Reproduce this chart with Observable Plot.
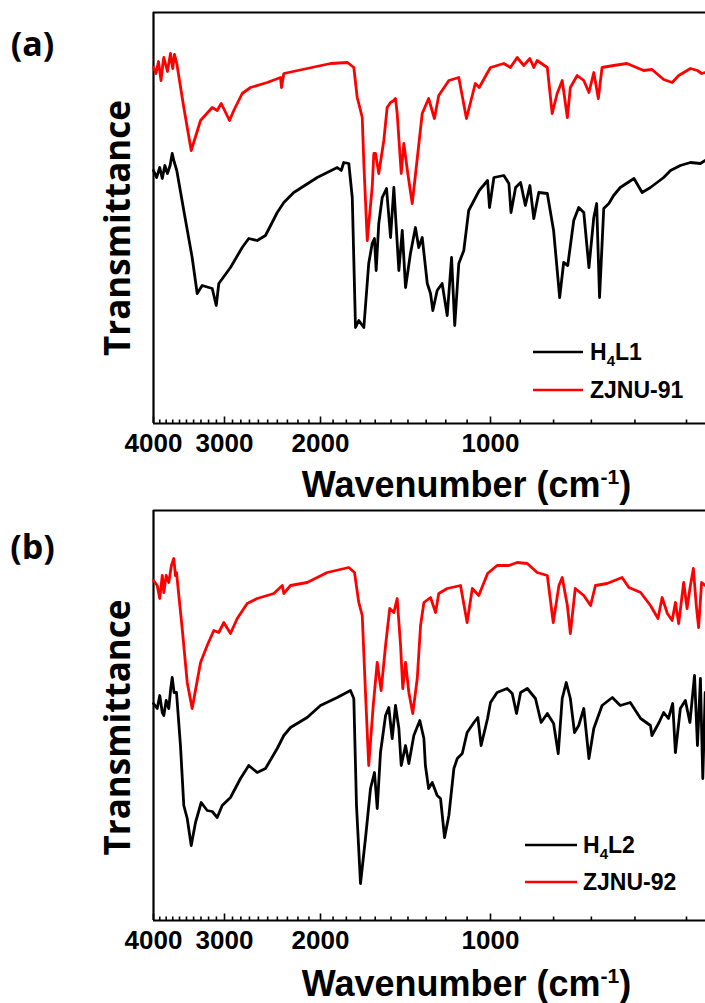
<!DOCTYPE html>
<html><head><meta charset="utf-8">
<script src="https://cdn.jsdelivr.net/npm/d3@7"></script>
<script src="https://cdn.jsdelivr.net/npm/@observablehq/plot@0.6"></script>
<style>
html,body{margin:0;padding:0;background:#fff;overflow:hidden;}
#chart{width:705px;}
#chart svg{display:block;}
</style></head><body><div id="chart"></div>
<script>
// ---------- data (wavenumber cm-1, transmittance a.u.) ----------
const xTickLabels = [4000, 3000, 2000, 1000];
const xMinorTicks = [3900,3800,3700,3600,3500,3400,3300,3200,3100,2900,2800,2700,2600,2500,2400,2300,2200,2100,1900,1800,1700,1600,1500,1400,1300,1200,1100,900,800,700,600,500];

const h4l1 = [[4000,253],[3950,246],[3900,256],[3860,245],[3820,258],[3780,250],[3740,258],[3708,270],[3680,262],[3640,253],[3538,213],[3420,166],[3351,130],[3284,138],[3153,135],[3102,118],[3070,140],[2925,156],[2784,176],[2708,185],[2613,183],[2523,188],[2401,211],[2335,221],[2239,231],[2028,246],[1868,256],[1838,253],[1819,261],[1782,260],[1757,226],[1734,96],[1711,103],[1676,96],[1643,160],[1620,180],[1605,185],[1594,153],[1577,200],[1555,226],[1528,235],[1503,186],[1483,236],[1453,153],[1433,193],[1414,136],[1386,170],[1358,196],[1340,176],[1321,186],[1294,140],[1277,130],[1265,113],[1243,133],[1218,140],[1193,108],[1172,166],[1157,98],[1138,160],[1115,173],[1093,213],[1047,233],[1012,243],[1004,216],[988,246],[954,248],[937,240],[930,211],[915,236],[899,241],[884,218],[870,238],[858,205],[843,231],[818,230],[800,193],[783,126],[772,161],[761,158],[745,203],[732,216],[719,211],[706,156],[694,206],[687,220],[680,126],[670,215],[658,220],[647,228],[632,236],[602,245],[585,231],[568,236],[542,246],[529,253],[511,258],[493,261],[476,260],[468,263]];

const zjnu91 = [[4000,356],[3960,350],[3920,362],[3880,343],[3850,360],[3836,366],[3780,352],[3734,370],[3700,355],[3674,369],[3640,360],[3538,316],[3433,273],[3306,303],[3153,316],[3090,313],[3040,320],[2937,303],[2885,313],[2784,330],[2688,336],[2505,341],[2368,346],[2358,336],[2335,350],[2116,355],[1920,360],[1794,361],[1782,360],[1746,356],[1722,326],[1711,320],[1687,306],[1676,260],[1653,183],[1620,236],[1609,270],[1598,270],[1577,250],[1545,283],[1524,316],[1503,321],[1483,323],[1473,325],[1463,310],[1439,250],[1424,280],[1401,250],[1376,220],[1345,270],[1321,310],[1287,325],[1257,305],[1235,328],[1185,343],[1138,346],[1103,305],[1064,340],[1047,336],[1012,351],[1000,356],[954,360],[932,356],[910,366],[889,358],[870,365],[858,356],[848,363],[818,356],[804,310],[790,330],[776,343],[762,306],[754,336],[736,348],[719,343],[706,331],[694,351],[683,325],[674,356],[647,358],[617,360],[582,353],[565,354],[542,344],[526,341],[514,348],[493,355],[481,353],[474,350],[468,351]];

const h4l2 = [[4000,217],[3940,212],[3900,225],[3860,208],[3836,205],[3800,220],[3760,212],[3730,232],[3708,243],[3680,228],[3644,228],[3586,175],[3538,115],[3489,102],[3433,75],[3374,98],[3297,118],[3218,110],[3153,109],[3090,103],[3028,115],[2925,123],[2804,142],[2708,155],[2613,148],[2523,152],[2401,172],[2335,185],[2270,193],[2116,203],[2000,215],[1868,223],[1770,230],[1746,222],[1727,115],[1699,37],[1665,82],[1631,132],[1605,148],[1587,112],[1566,168],[1534,205],[1514,213],[1493,182],[1473,215],[1453,192],[1439,155],[1414,175],[1395,157],[1367,185],[1334,200],[1312,182],[1304,155],[1287,132],[1268,138],[1243,125],[1226,122],[1206,83],[1185,105],[1161,152],[1145,162],[1122,167],[1100,188],[1070,198],[1053,203],[1039,175],[1012,202],[1000,218],[977,228],[943,232],[926,227],[912,207],[899,228],[878,232],[853,222],[836,198],[818,207],[800,197],[787,167],[776,222],[765,238],[754,222],[743,188],[732,195],[719,212],[706,162],[694,192],[674,215],[650,223],[632,215],[610,218],[588,202],[568,195],[565,185],[551,198],[542,208],[533,202],[525,217],[520,168],[511,212],[502,220],[494,198],[486,245],[481,175],[476,242],[472,142],[468,228]];

const zjnu92 = [[4000,340],[3940,335],[3900,322],[3860,345],[3836,328],[3800,345],[3760,338],[3720,355],[3684,362],[3660,345],[3644,348],[3561,292],[3489,238],[3420,212],[3306,258],[3218,275],[3133,290],[3070,288],[3008,298],[2925,287],[2843,302],[2726,317],[2613,322],[2436,327],[2350,335],[2335,327],[2270,335],[2116,338],[1946,348],[1782,353],[1741,348],[1711,318],[1687,305],[1665,228],[1643,155],[1613,215],[1587,258],[1562,230],[1534,275],[1508,312],[1483,308],[1463,322],[1443,275],[1430,232],[1414,258],[1395,228],[1373,207],[1348,242],[1330,295],[1312,318],[1277,323],[1251,308],[1235,327],[1193,332],[1130,335],[1100,298],[1077,332],[1049,325],[1012,347],[977,355],[937,355],[910,358],[878,357],[848,348],[818,345],[801,298],[785,335],[776,343],[762,315],[754,287],[741,332],[719,325],[702,315],[690,335],[662,337],[628,343],[613,333],[588,328],[568,315],[553,302],[545,323],[535,307],[526,300],[520,318],[514,297],[505,338],[499,312],[494,332],[488,352],[483,315],[479,293],[474,338],[468,335]];

const panelTags = ["(a)", "(b)"];
const seriesNames = [["H4L1", "ZJNU-91"], ["H4L2", "ZJNU-92"]];
const yLabel = "Transmittance";
const xLabel = "Wavenumber (cm-1)";

// ---------- styles / layout ----------
const X_DOMAIN = [4000, 3000, 2000, 1000, 500];
const X_RANGE = [153, 224, 320, 490, 686];
const BLACK = "#000000", RED = "#ff0000";

function panel({black, red, yMax, height, marginTop, marginBottom, tag, names, tagDy, yDy, xlDy, legend}) {
  const svg = Plot.plot({
    width: 705, height, marginTop, marginBottom, marginLeft: 153, marginRight: 0,
    x: {type: "log", domain: X_DOMAIN, range: X_RANGE},
    y: {domain: [0, yMax], axis: null},
    style: {background: "#fff", overflow: "visible"},
    marks: [
      Plot.ruleX([X_DOMAIN[0]], {stroke: "#000", strokeWidth: 2.2}),
      Plot.ruleY([0], {stroke: "#000", strokeWidth: 2.2}),
      Plot.ruleY([yMax], {stroke: "#000", strokeWidth: 2.2}),
      Plot.axisX(xMinorTicks, {anchor: "bottom", tickSize: -3.5, strokeWidth: 1.6, tickFormat: () => "", label: null}),
      Plot.axisX(xTickLabels, {anchor: "bottom", tickSize: -6.5, strokeWidth: 1.6, tickFormat: () => "", label: null}),
      Plot.axisX(xTickLabels, {anchor: "bottom", tickSize: 0, tickPadding: 10, tickFormat: d => String(d), fontSize: 26, fontWeight: "bold", fontFamily: "Liberation Sans", fill: "#000", label: null}),
      Plot.line(black, {x: d => d[0], y: d => d[1], stroke: BLACK, strokeWidth: 2.8, strokeLinejoin: "round"}),
      Plot.line(red, {x: d => d[0], y: d => d[1], stroke: RED, strokeWidth: 2.8, strokeLinejoin: "round"}),
      Plot.text([tag], {text: d => d, frameAnchor: "top-left", textAnchor: "middle", lineAnchor: "middle", dx: -121, dy: tagDy, fontSize: 34, fontWeight: "bold", fontFamily: "Open Sans", fill: "#000"}),
      Plot.text([yLabel], {text: d => d, frameAnchor: "left", textAnchor: "middle", lineAnchor: "middle", rotate: -90, dx: -35, dy: yDy, fontSize: 35, fontWeight: "bold", fontFamily: "Open Sans", fill: "#000"}),
      Plot.text([xLabel], {text: d => d, frameAnchor: "bottom", textAnchor: "middle", lineAnchor: "middle", dx: 37, dy: xlDy, fontSize: 36, fontWeight: "bold", fontFamily: "Liberation Sans", fill: "#000"})
    ]
  });
  // superscript in x label
  d3.select(svg).selectAll("text").each(function() {
    if (this.textContent === xLabel) {
      const t = d3.select(this);
      t.text(null);
      t.append("tspan").text("Wavenumber (cm");
      t.append("tspan").attr("font-size", "21").attr("dy", "-13").text("-1");
      t.append("tspan").attr("dy", "13").text(")");
    }
  });
  // legend
  const g = d3.select(svg).append("g").attr("font-family", "Liberation Sans").attr("font-weight", "bold").attr("font-size", 23).attr("text-anchor", "start");
  const colors = [BLACK, RED];
  names.forEach((nm, i) => {
    const y = legend.ys[i];
    g.append("line").attr("x1", legend.x0).attr("x2", legend.x1).attr("y1", y).attr("y2", y).attr("stroke", colors[i]).attr("stroke-width", 2.4);
    const t = g.append("text").attr("x", legend.tx).attr("y", y).attr("dy", "0.36em").attr("fill", "#000");
    const m = nm.match(/^H(\d)(L\d)$/);
    if (m) {
      t.append("tspan").text("H");
      t.append("tspan").attr("font-size", 15).attr("dy", 6).text(m[1]);
      t.append("tspan").attr("dy", -6).text(m[2]);
    } else t.text(nm);
  });
  return svg;
}

const root = document.getElementById("chart");
root.appendChild(panel({black: h4l1, red: zjnu91, yMax: 411, height: 500, marginTop: 12, marginBottom: 77, tag: panelTags[0], names: seriesNames[0], tagDy: 33, yDy: 10, xlDy: 62, legend: {x0: 533, x1: 583, tx: 590, ys: [352, 390]}}));
root.appendChild(panel({black: h4l2, red: zjnu92, yMax: 410, height: 503, marginTop: 10, marginBottom: 83, tag: panelTags[1], names: seriesNames[1], tagDy: 38, yDy: 12, xlDy: 64, legend: {x0: 525, x1: 577, tx: 583, ys: [345, 382]}}));
</script></body></html>
